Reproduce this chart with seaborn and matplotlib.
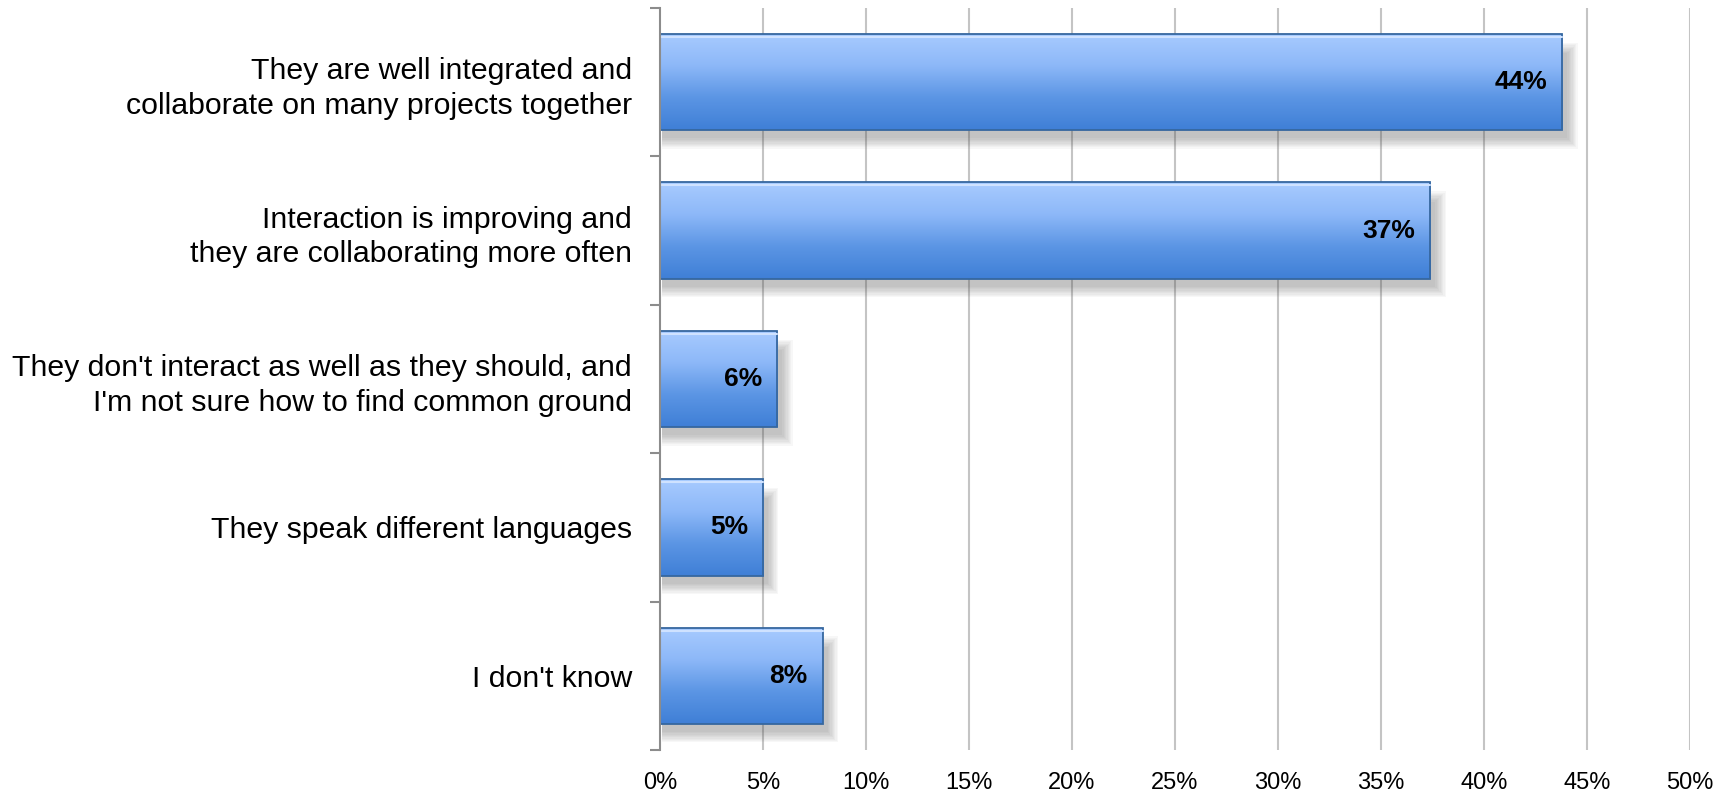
import numpy as np
import pandas as pd
import seaborn as sns
import matplotlib.pyplot as plt
from matplotlib.patches import Rectangle
from matplotlib.colors import LinearSegmentedColormap

# answers and share of respondents
answers = [
    "They are well integrated and\ncollaborate on many projects together",
    "Interaction is improving and\nthey are collaborating more often",
    "They don't interact as well as they should, and\nI'm not sure how to find common ground",
    "They speak different languages",
    "I don't know",
]
share = [43.8, 37.4, 5.7, 5.0, 7.9]
share_labels = ["44%", "37%", "6%", "5%", "8%"]
xticks = [0, 5, 10, 15, 20, 25, 30, 35, 40, 45, 50]

df = pd.DataFrame({"answer": answers, "share": share})

sns.set_theme(style="white")
plt.rcParams['font.family'] = ['Liberation Sans', 'DejaVu Sans']

fig = plt.figure(figsize=(17.32, 7.94), dpi=100)
ax = fig.add_axes([0.381, 0.0554, 0.9758 - 0.381, 0.990 - 0.0554])

sns.barplot(data=df, x="share", y="answer", orient="h", color="#6a9fe8",
            width=0.65, ax=ax, zorder=3)

# grid lines behind everything
for xv in xticks[1:]:
    ax.axvline(xv, color="#c4c4c4", lw=1.5, zorder=0)

# gradient fill + soft shadow for every bar
grad = LinearSegmentedColormap.from_list("bar", ["#a8cbff", "#8db8f8", "#5b95e4", "#3f7fd6"])
gy = np.linspace(0, 1, 256).reshape(-1, 1)
px_x = 50 / 1030.0
px_y = 5 / 742.0
for p in list(ax.patches):
    x0, y0, w, h = p.get_x(), p.get_y(), p.get_width(), p.get_height()
    # shadow, stacked translucent rectangles
    for k in range(9):
        grow = k * 1.3
        ax.add_patch(Rectangle((x0 + 2 * px_x, y0 + h * 0.2 - grow * px_y),
                               w + (3 + grow) * px_x, h * 0.8 + (8 + 2 * grow) * px_y,
                               facecolor="#555555", edgecolor="none", alpha=0.045, zorder=1))
    im = ax.imshow(gy, cmap=grad, extent=(x0, x0 + w, y0 + h, y0), origin="upper",
                   aspect="auto", zorder=3.5)
    im.set_clip_path(p)
    p.set_edgecolor("#36679f")
    p.set_linewidth(1.3)
    p.set_zorder(4)
    p.set_facecolor("none")
    # thin highlight along the top edge
    ax.plot([x0, x0 + w], [y0 + 3 * px_y, y0 + 3 * px_y], color="#cfe2ff", lw=1.5, zorder=4.5)

for i, (v, lab) in enumerate(zip(share, share_labels)):
    ax.text(v - 15 * px_x, i, lab, ha="right", va="center", fontsize=19,
            fontweight="bold", color="black", zorder=6)

ax.set_xlim(0, 50)
ax.set_ylim(4.5, -0.5)
ax.set_xticks(xticks)
ax.set_xticklabels([f"{t}%" for t in xticks], fontsize=17, color="black")
ax.set_xlabel("")
ax.set_ylabel("")
ax.tick_params(axis="x", length=0, pad=16)
ax.tick_params(axis="y", which="major", length=0, pad=20, labelsize=21.8, labelcolor="black")
for t in ax.get_yticklabels():
    t.set_linespacing(1.3)
ax.set_yticks(np.arange(-0.5, 5, 1), minor=True)
ax.tick_params(axis="y", which="minor", length=7, width=1.5, color="#8c8c8c", direction="out", left=True)

for s in ["top", "right", "bottom"]:
    ax.spines[s].set_visible(False)
ax.spines["left"].set_color("#8c8c8c")
ax.spines["left"].set_linewidth(1.5)
ax.spines["left"].set_zorder(5)

fig.savefig("out.png", dpi=100)
